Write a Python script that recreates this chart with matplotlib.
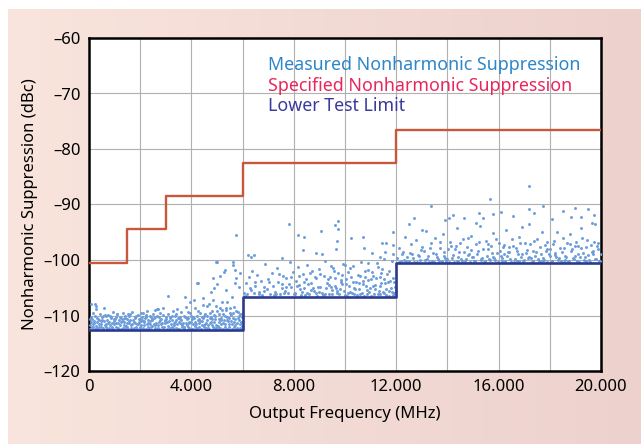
import numpy as np
import matplotlib.pyplot as plt

# step limits (MHz, dBc)
spec_freq = [0, 1500, 3000, 6000, 12000, 20000]
spec_dbc = [-100.5, -94.5, -88.5, -82.5, -76.5, -76.5]
lower_freq = [0, 6000, 12000, 20000]
lower_dbc = [-112.7, -106.6, -100.5, -100.5]

# measured points, 0-6 GHz band
band1 = [(40,-111.8),(90,-110.2),(130,-112.1),(170,-109.6),(210,-111.0),(260,-108.3),(300,-112.3),(350,-110.6),
         (390,-111.5),(430,-109.8),(480,-112.0),(520,-110.9),(570,-108.6),(610,-111.7),(660,-110.1),(700,-112.4),
         (750,-109.9),(790,-111.2),(840,-110.5),(880,-112.2),(930,-109.4),(970,-111.6),(1020,-110.7),(1060,-112.0),
         (1110,-109.7),(1150,-111.3),(1200,-110.3),(1240,-112.4),(1290,-111.0),(1330,-109.5),(1380,-111.8),(1420,-110.4),
         (1470,-112.1),(1510,-109.8),(1560,-111.4),(1600,-110.8),(1650,-112.3),(1690,-109.3),(1740,-111.1),(1780,-110.2),
         (1830,-112.0),(1870,-111.5),(1920,-109.9),(1960,-110.6),(2010,-112.2),(2050,-111.0),(2100,-109.6),(2140,-111.8),
         (2190,-110.4),(2230,-112.4),(2280,-109.2),(2320,-111.3),(2370,-110.1),(2410,-112.1),(2460,-110.9),(2500,-109.7),
         (2550,-111.6),(2590,-110.3),(2640,-108.9),(2680,-112.3),(2730,-111.1),(2770,-109.5),(2820,-110.7),(2860,-112.0),
         (2910,-108.6),(2950,-111.4),(3000,-110.2),(3050,-112.4),(3090,-109.8),(3140,-111.0),(3180,-110.5),(3230,-112.1),
         (3270,-109.1),(3320,-111.7),(3360,-110.0),(3410,-112.3),(3450,-108.8),(3500,-111.2),(3540,-110.6),(3590,-109.4),
         (3630,-112.0),(3680,-111.3),(3720,-110.1),(3770,-108.4),(3810,-111.8),(3860,-110.4),(3900,-112.2),(3950,-109.6),
         (3990,-111.1),(4040,-110.7),(4080,-112.4),(4130,-108.7),(4170,-111.5),(4220,-110.0),(4260,-109.2),(4310,-112.1),
         (4350,-111.0),(4400,-110.3),(4440,-108.1),(4490,-111.7),(4530,-109.8),(4580,-112.3),(4620,-110.9),(4670,-107.9),
         (4710,-111.4),(4760,-110.2),(4800,-109.1),(4850,-112.0),(4890,-111.2),(4940,-110.6),(4980,-108.3),(5030,-111.9),
         (5070,-109.7),(5120,-112.2),(5160,-110.8),(5210,-107.6),(5250,-111.3),(5300,-110.1),(5340,-109.0),(5390,-112.4),
         (5430,-111.0),(5480,-110.5),(5520,-108.6),(5570,-111.6),(5610,-109.5),(5660,-112.1),(5700,-110.7),(5750,-109.1),
         (5790,-111.4),(5840,-110.0),(5880,-112.3),(5930,-111.1),(5970,-109.8),
         (20,-112.4),(70,-111.1),(110,-110.7),(150,-112.0),(190,-111.4),(240,-110.1),(280,-111.9),(320,-111.2),
         (370,-112.5),(410,-110.9),(450,-111.6),(500,-110.3),(540,-112.2),(590,-111.0),(630,-109.9),(680,-111.5),
         (720,-110.8),(770,-112.3),(810,-111.7),(860,-110.2),(900,-111.3),(950,-112.5),(990,-110.6),(1040,-111.4),
         (1080,-109.8),(1130,-112.2),(1170,-110.9),(1220,-111.7),(1260,-110.4),(1310,-112.3),(1350,-111.2),(1400,-110.0),
         (1440,-111.9),(1490,-110.6),(1530,-112.4),(1580,-111.0),(1620,-109.7),(1670,-111.6),(1710,-110.9),(1760,-112.2),
         (1800,-111.3),(1850,-110.1),(1890,-112.5),(1940,-111.1),(1980,-110.7),(2030,-111.8),(2070,-110.3),(2120,-112.3),
         (2160,-111.2),(2210,-109.9),(2250,-111.5),(2300,-110.8),(2340,-112.4),(2390,-111.6),(2430,-110.2),(2480,-111.9),
         (2520,-110.5),(2570,-112.2),(2610,-111.3),(2660,-110.0),(2700,-111.7),(2750,-112.5),(2790,-110.9),(2840,-111.4),
         (2880,-109.9),(2930,-112.0),(2970,-111.0),(3020,-110.6),(3070,-111.9),(3110,-112.4),(3160,-110.3),(3200,-111.5),
         (3250,-110.8),(3290,-112.2),(3340,-111.1),(3380,-109.7),(3430,-111.6),(3470,-110.4),(3520,-112.5),(3560,-111.3),
         (3610,-110.9),(3650,-111.8),(3700,-112.3),(3740,-110.2),(3790,-111.4),(3830,-110.7),(3880,-112.0),(3920,-111.2),
         (3970,-110.0),(4010,-112.4),(4060,-111.6),(4100,-110.5),(4150,-111.9),(4190,-112.2),(4240,-110.8),(4280,-111.3),
         (4330,-109.6),(4370,-112.5),(4420,-111.0),(4460,-110.4),(4510,-112.1),(4550,-111.5),(4600,-110.1),(4640,-111.8),
         (4690,-112.4),(4730,-109.5),(4780,-111.1),(4820,-110.6),(4870,-112.3),(4910,-110.0),(4960,-111.7),(5000,-109.2),
         (5050,-112.0),(5090,-111.2),(5140,-110.4),(5180,-109.0),(5230,-112.4),(5270,-110.9),(5320,-111.6),(5360,-108.7),
         (5410,-110.2),(5450,-112.1),(5500,-109.6),(5540,-111.0),(5590,-112.5),(5630,-110.5),(5680,-108.4),(5720,-111.8),
         (5770,-112.3),(5810,-109.3),(5860,-110.8),(5900,-111.5),(5950,-112.4),(5990,-110.3),
         (55,-110.6),(140,-111.5),(225,-112.5),(310,-110.4),(395,-112.0),(470,-111.0),(555,-110.0),(645,-112.1),
         (730,-111.3),(815,-110.1),(895,-112.1),(980,-111.0),(1065,-110.2),(1145,-112.4),(1235,-111.1),(1315,-110.7),
         (1395,-112.2),(1480,-111.4),(1565,-110.0),(1645,-111.8),(1725,-112.4),(1810,-110.5),(1895,-111.6),(1975,-112.1),
         (2060,-110.9),(2140,-111.0),(2225,-110.2),(2310,-112.1),(2395,-111.0),(2475,-110.6),(2560,-111.8),(2645,-112.4),
         (2725,-110.3),(2810,-111.5),(2895,-112.3),(2975,-110.8),(3060,-111.2),(3145,-112.2),(3225,-110.0),(3310,-111.4),
         (3395,-110.8),(3475,-112.4),(3560,-110.2),(3645,-111.5),(3725,-112.0),(3810,-110.5),(3895,-111.3),(3975,-112.5),
         (4060,-110.3),(4145,-111.1),(4225,-112.3),(4310,-110.6),(4395,-111.8),(4475,-110.0),(4560,-111.3),(4645,-112.3),
         (4725,-110.5),(4810,-111.7),(4895,-109.9),(4975,-112.2),(5060,-110.7),(5145,-111.5),(5225,-109.8),(5310,-112.1),
         (5395,-110.9),(5475,-111.6),(5560,-109.9),(5645,-111.2),(5725,-112.4),(5810,-110.4),(5895,-109.7),(5975,-111.9),
         (60,-108.0),(230,-107.9),(270,-108.8),(2030,-109.5),(2560,-109.0),(2700,-108.9),(3090,-106.5),(3750,-106.7),
         (3870,-109.4),(3950,-107.6),(4120,-107.2),(4220,-104.1),(4260,-104.2),(4450,-106.9),(4600,-108.3),(4760,-105.7),
         (4840,-107.2),(4840,-103.3),(4880,-105.1),(4960,-100.4),(5000,-104.3),(5000,-100.3),(5100,-102.9),(5120,-108.6),
         (5270,-102.2),(5310,-101.8),(5350,-105.4),(5390,-107.6),(5580,-106.7),(5620,-100.4),(5630,-100.9),(5700,-101.8),
         (5720,-104.2),(5740,-103.3),(5740,-95.5),(5860,-104.8),(5900,-102.4)]

# 6-12 GHz band
band2 = [(6060,-105.9),(6120,-104.2),(6190,-106.2),(6250,-103.1),(6310,-105.4),(6380,-101.9),(6440,-106.0),(6500,-104.6),
         (6570,-102.7),(6630,-105.7),(6700,-103.8),(6760,-106.3),(6820,-104.9),(6890,-100.8),(6950,-105.2),(7010,-103.4),
         (7080,-106.1),(7140,-102.3),(7200,-104.7),(7270,-105.8),(7330,-101.5),(7390,-103.9),(7460,-106.2),(7520,-104.4),
         (7580,-102.8),(7650,-105.5),(7710,-103.2),(7770,-106.0),(7840,-100.4),(7900,-104.9),(7960,-102.1),(8030,-105.9),
         (8090,-103.7),(8150,-101.2),(8220,-104.5),(8280,-106.3),(8340,-102.6),(8410,-105.1),(8470,-103.5),(8530,-100.9),
         (8600,-106.1),(8660,-104.2),(8720,-102.0),(8790,-105.6),(8850,-103.3),(8910,-106.4),(8980,-101.7),(9040,-104.8),
         (9100,-105.9),(9170,-102.9),(9230,-100.2),(9290,-104.1),(9360,-106.2),(9420,-103.0),(9480,-105.4),(9550,-101.4),
         (9610,-104.6),(9670,-106.0),(9740,-102.4),(9800,-105.2),(9860,-103.6),(9930,-100.7),(9990,-106.3),(10050,-104.3),
         (10120,-102.2),(10180,-105.7),(10240,-103.1),(10310,-101.0),(10370,-106.1),(10430,-104.0),(10500,-102.7),(10560,-105.3),
         (10620,-100.3),(10690,-103.8),(10750,-106.4),(10810,-104.7),(10880,-101.8),(10940,-105.8),(11000,-103.4),(11070,-102.1),
         (11130,-106.2),(11190,-104.5),(11260,-100.6),(11320,-105.5),(11380,-103.0),(11450,-101.6),(11510,-106.0),(11570,-104.2),
         (11640,-102.5),(11700,-105.6),(11760,-103.7),(11830,-100.1),(11890,-106.3),(11950,-104.8),
         (8060,-106.1),(8250,-105.3),(8500,-106.0),(8750,-105.0),(9000,-105.7),(9200,-106.2),(9450,-104.9),(9700,-105.5),
         (9900,-104.4),(10100,-105.9),(10350,-105.1),(10600,-106.2),(10850,-105.4),(11100,-104.6),(11350,-106.1),(11600,-105.2),
         (11850,-105.8),(7300,-106.1),(7550,-105.0),(7800,-104.3),(9600,-103.2),(10800,-103.0),(11400,-104.1),(11700,-106.4),
         (11920,-103.9),
         (6090,-106.4),(6280,-105.0),(6470,-103.9),(6660,-106.1),(6850,-105.5),(7040,-104.0),(7230,-106.3),(7420,-102.5),
         (7610,-106.0),(7690,-104.8),(7880,-103.0),(7990,-106.2),(8120,-104.6),(8190,-102.9),(8310,-105.8),(8380,-103.9),
         (8440,-106.3),(8560,-104.3),(8630,-102.3),(8690,-105.4),(8810,-103.1),(8880,-106.0),(8940,-104.9),(9010,-102.6),
         (9130,-106.3),(9260,-105.1),(9320,-103.4),(9390,-104.5),(9510,-106.1),(9580,-102.0),(9640,-105.0),(9770,-106.2),
         (9830,-104.0),(9890,-102.7),(9960,-105.6),(10020,-103.5),(10080,-106.4),(10150,-104.7),(10210,-101.5),(10270,-106.0),
         (10330,-103.9),(10400,-105.2),(10460,-106.3),(10530,-104.2),(10590,-102.9),(10650,-105.9),(10720,-104.4),(10780,-101.9),
         (10840,-106.1),(10910,-103.6),(10970,-105.0),(11030,-106.4),(11100,-102.8),(11160,-105.3),(11220,-103.2),(11290,-106.2),
         (11350,-104.7),(11420,-102.3),(11480,-105.7),(11540,-103.5),(11610,-106.3),(11670,-104.0),(11730,-102.0),(11790,-105.1),
         (11860,-103.3),(11920,-106.0),(11980,-105.5),(9470,-101.0),(10000,-100.9),(10900,-100.5),(11300,-101.3),
         (6210,-99.1),(6330,-99.4),(6450,-99.1),(7540,-99.6),(7810,-93.5),(8160,-95.5),(8360,-98.2),(8400,-95.9),
         (8870,-98.7),(9060,-94.8),(9100,-98.9),(9610,-93.7),(9650,-98.0),(9690,-96.6),(9730,-93.0),(9730,-94.4),
         (10230,-96.0),(10700,-95.9),(10740,-97.8),(11050,-98.7),(11370,-99.4),(11450,-96.9),(11520,-99.9),(11560,-98.5),
         (11610,-96.9),(11870,-95.0),(11870,-97.3),(11870,-99.0)]

# 12-20 GHz band
band3 = [(12050,-99.6),(12120,-97.8),(12190,-100.2),(12270,-98.5),(12340,-95.9),(12410,-99.4),(12490,-100.1),(12560,-97.2),
         (12630,-98.9),(12710,-100.3),(12780,-96.4),(12850,-99.1),(12930,-100.0),(13000,-97.6),(13070,-98.3),(13150,-94.8),
         (13220,-99.8),(13290,-100.3),(13370,-97.0),(13440,-98.7),(13510,-96.0),(13590,-99.5),(13660,-100.2),(13730,-97.9),
         (13810,-95.3),(13880,-99.2),(13950,-100.1),(14030,-98.1),(14100,-96.8),(14170,-99.7),(14250,-100.3),(14320,-97.4),
         (14390,-94.3),(14470,-98.6),(14540,-99.9),(14610,-96.2),(14690,-100.2),(14760,-97.7),(14830,-98.9),(14910,-95.6),
         (14980,-99.4),(15050,-100.1),(15130,-97.1),(15200,-98.4),(15270,-93.9),(15350,-99.6),(15420,-100.3),(15490,-96.6),
         (15570,-98.0),(15640,-99.8),(15710,-97.5),(15790,-95.1),(15860,-100.0),(15930,-98.7),(16010,-96.9),(16080,-99.3),
         (16150,-100.2),(16230,-97.3),(16300,-94.6),(16370,-98.5),(16450,-99.9),(16520,-96.3),(16590,-100.3),(16670,-97.8),
         (16740,-98.9),(16810,-95.8),(16890,-99.5),(16960,-100.1),(17030,-97.0),(17110,-98.2),(17180,-93.6),(17250,-99.7),
         (17330,-100.2),(17400,-96.5),(17470,-98.6),(17550,-99.9),(17620,-97.6),(17690,-95.0),(17770,-100.0),(17840,-98.3),
         (17910,-96.7),(17990,-99.2),(18060,-100.3),(18130,-97.2),(18210,-98.8),(18280,-94.9),(18350,-99.6),(18430,-100.1),
         (18500,-96.1),(18570,-97.9),(18650,-99.4),(18720,-100.2),(18790,-95.4),(18870,-98.1),(18940,-99.8),(19010,-96.8),
         (19090,-97.5),(19160,-100.3),(19230,-94.2),(19310,-98.7),(19380,-99.5),(19450,-96.4),(19530,-100.0),(19600,-97.3),
         (19670,-98.4),(19750,-93.5),(19820,-99.9),(19890,-96.9),(19960,-100.2),
         (12300,-100.0),(12900,-99.3),(13400,-100.1),(13900,-99.6),(14400,-100.2),(14800,-99.1),(15300,-100.0),(15800,-99.4),
         (16200,-99.0),(16700,-100.1),(17200,-99.5),(17700,-100.2),(18200,-99.1),(18600,-100.0),(19000,-99.3),(19400,-100.1),
         (19700,-99.0),(19900,-98.0),(18800,-97.1),(19200,-97.9),(17900,-98.0),(16400,-97.6),
         (12090,-100.3),(12230,-99.0),(12370,-100.2),(12520,-98.8),(12660,-99.7),(12810,-100.3),(12960,-98.2),(13110,-100.0),
         (13250,-99.2),(13330,-97.9),(13470,-100.3),(13550,-98.9),(13620,-99.9),(13700,-96.7),(13770,-100.2),(13850,-98.5),
         (13990,-99.8),(14070,-100.3),(14140,-97.5),(14210,-99.1),(14290,-98.0),(14360,-100.1),(14430,-99.4),(14500,-97.0),
         (14580,-100.2),(14650,-98.6),(14720,-99.8),(14800,-96.0),(14870,-100.3),(14940,-98.2),(15010,-99.5),(15090,-100.1),
         (15160,-98.9),(15230,-96.8),(15310,-99.9),(15380,-98.1),(15460,-100.2),(15530,-99.3),(15600,-97.2),(15680,-100.0),
         (15750,-98.8),(15820,-99.7),(15900,-96.3),(15970,-100.3),(16040,-98.4),(16120,-99.6),(16190,-97.7),(16260,-100.1),
         (16340,-99.2),(16410,-98.6),(16480,-100.3),(16560,-97.4),(16630,-99.8),(16700,-98.3),(16780,-100.2),(16850,-96.9),
         (16920,-99.0),(17000,-100.0),(17070,-98.7),(17140,-99.6),(17220,-97.1),(17290,-100.3),(17360,-98.4),(17440,-99.3),
         (17510,-96.2),(17580,-100.1),(17660,-98.9),(17730,-99.7),(17800,-97.3),(17880,-100.3),(17950,-99.0),(18020,-98.1),
         (18100,-100.2),(18170,-96.6),(18240,-99.5),(18320,-100.0),(18390,-97.8),(18460,-98.6),(18540,-100.3),(18610,-99.2),
         (18680,-96.9),(18760,-100.1),(18830,-98.3),(18900,-99.6),(18980,-97.5),(19050,-100.2),(19120,-98.9),(19190,-99.4),
         (19270,-96.1),(19340,-100.0),(19420,-97.7),(19490,-99.1),(19560,-100.3),(19640,-98.5),(19710,-96.8),(19780,-99.8),
         (19850,-97.4),(19930,-100.1),(19990,-98.9),
         (13360,-90.3),(15660,-89.0),(17190,-86.7),(17730,-90.3),(18980,-90.6),(12500,-93.5),(13900,-92.8),(14060,-92.5),
         (14200,-91.9),(14650,-92.4),(15230,-91.5),(15400,-92.5),(15800,-91.7),(16090,-91.4),(16560,-92.1),(17190,-90.8),
         (17400,-91.5),(18100,-92.6),(18500,-91.2),(18830,-92.2),(19200,-92.2),(19500,-90.9),(19730,-91.9),(16900,-94.0),
         (15100,-93.3),(13000,-94.6),(12700,-92.4),(19650,-93.4)]

x_ticks = [0, 4000, 8000, 12000, 16000, 20000]
x_labels = ["0", "4.000", "8.000", "12.000", "16.000", "20.000"]
y_ticks = [-60, -70, -80, -90, -100, -110, -120]

plt.rcParams['font.family'] = ['Noto Sans', 'DejaVu Sans']

fig = plt.figure(figsize=(6.41, 4.44), dpi=100)

# pink gradient backdrop
bg = fig.add_axes([8/641, 0, 1 - 8/641, 1 - 9/444], zorder=-5)
left_c = np.array([249, 229, 221]) / 255
right_c = np.array([237, 209, 205]) / 255
t = np.linspace(0, 1, 256)[None, :, None]
grad = left_c * (1 - t) + right_c * t
bg.imshow(grad, aspect='auto', extent=[0, 1, 0, 1])
bg.axis('off')

ax = fig.add_axes([89/641, 1 - 371/444, 512/641, 333/444])
ax.set_facecolor('white')

meas = band1 + band2 + band3
mx = [p[0] for p in meas]
my = [p[1] for p in meas]
ax.scatter(mx, my, s=4.5, color='#6b9ddc', linewidths=0, zorder=3)

ax.step(spec_freq, spec_dbc, where='post', color='#c9573b', lw=1.7, zorder=4)
ax.step(lower_freq, lower_dbc, where='post', color='#2b3a8f', lw=1.9, zorder=4)

ax.set_xlim(0, 20000)
ax.set_ylim(-120, -60)
ax.set_xticks(np.arange(0, 20001, 2000), minor=True)
ax.set_xticks(x_ticks)
ax.set_xticklabels(x_labels)
ax.set_yticks(y_ticks)
ax.set_yticklabels(["\u2013" + str(abs(v)) for v in y_ticks])
ax.grid(True, which='both', axis='x', color='#b0b0b0', lw=0.8)
ax.grid(True, which='major', axis='y', color='#b0b0b0', lw=0.8)
ax.tick_params(which='both', length=0, labelsize=12, pad=6)
for s in ax.spines.values():
    s.set_linewidth(1.8)
    s.set_color('black')

ax.set_xlabel("Output Frequency (MHz)", fontsize=12, labelpad=8)
ax.set_ylabel("Nonharmonic Suppression (dBc)", fontsize=12, labelpad=4)

ax.text(0.35, 0.919, "Measured Nonharmonic Suppression", transform=ax.transAxes, color='#2d86c9', fontsize=12.8, va='center')
ax.text(0.35, 0.856, "Specified Nonharmonic Suppression", transform=ax.transAxes, color='#e8275d', fontsize=12.8, va='center')
ax.text(0.35, 0.796, "Lower Test Limit", transform=ax.transAxes, color='#3a3a9c', fontsize=12.8, va='center')

fig.savefig("out.png", dpi=100)
